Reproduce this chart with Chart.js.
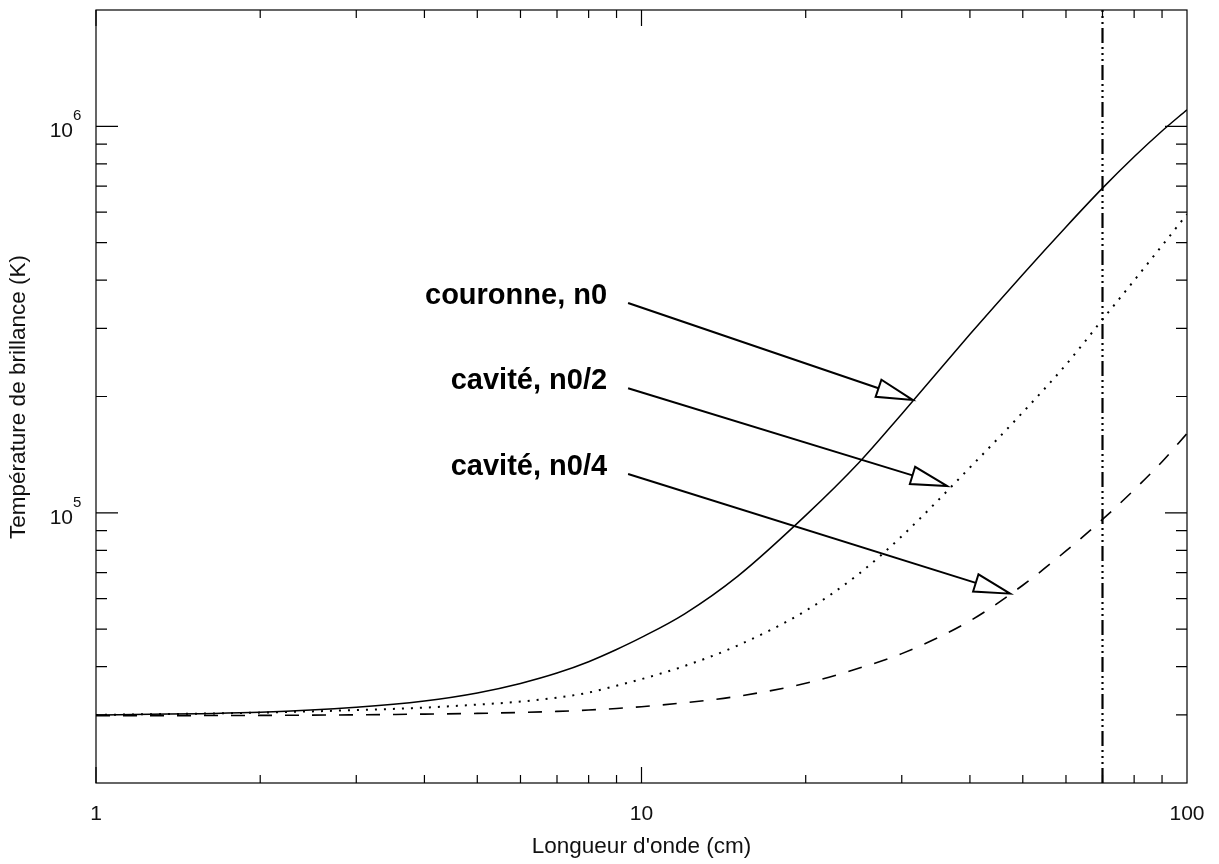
<!DOCTYPE html>
<html>
<head>
<meta charset="utf-8">
<script src="https://cdn.jsdelivr.net/npm/chart.js@4/dist/chart.umd.min.js"></script>
<style>
  body { margin: 0; background: #fff; }
  #wrap { width: 1219px; height: 864px; }
</style>
</head>
<body>
<div id="wrap"><canvas id="tbChart" width="1219" height="864"></canvas></div>
<script>
// longueur d'onde (cm)
const wavelengths = [1, 2, 3, 4, 5, 6, 7, 8, 9, 10, 12, 15, 20, 25, 30, 40, 50, 60, 70, 80, 90, 100];
// température de brillance (K)
const tbCouronne = [30000, 30500, 31400, 32600, 34200, 36200, 38500, 41200, 44300, 47600, 54800, 68500, 98500, 134600, 180300, 289600, 413900, 549200, 692000, 834200, 972500, 1104000];
const tbCaviteN2 = [30000, 30420, 30880, 31340, 31900, 32480, 33270, 34270, 35700, 37130, 40170, 45360, 55800, 69440, 87000, 131000, 182000, 241800, 316400, 399200, 491400, 592300];
const tbCaviteN4 = [29850, 29920, 30020, 30150, 30280, 30450, 30640, 30890, 31180, 31510, 32260, 33520, 36220, 39600, 43230, 52540, 64970, 79690, 96160, 114700, 135600, 160500];
const cutoffWavelength = 70;

// axes
const xRange = [1, 100];
const yRange = [2e4, 2e6];
const xMajorTicks = [1, 10, 100];
const xTickLabels = ['1', '10', '100'];
const yMajorTicks = [1e5, 1e6];
const yTickExponents = ['5', '6'];

// annotations: texte, départ de la flèche et pointe (unités des données)
const annoLabels = ['couronne, n0', 'cavité, n0/2', 'cavité, n0/4'];
const annoStart = [[9.45, 349000], [9.45, 210000], [9.45, 126000]];
const annoTip = [[31.4, 196000], [36.3, 117400], [47.4, 61800]];

function pts(ys) {
    return wavelengths.map(function (w, i) { return { x: w, y: ys[i] }; });
}

const FONT = "'Liberation Sans', Arial, Helvetica, sans-serif";

// dessin du cadre, des graduations et des annotations
const framePlugin = {
    id: 'frame',
    afterDatasetsDraw: function (chart) {
        const c = chart.ctx;
        const a = chart.chartArea;
        const xs = chart.scales.x;
        const ys = chart.scales.y;
        c.save();
        c.strokeStyle = '#000';
        c.lineWidth = 1.2;
        c.strokeRect(a.left, a.top, a.right - a.left, a.bottom - a.top);

        // graduations x
        c.beginPath();
        for (let d = 1; d < 100; d *= 10) {
            for (let m = 1; m < 10; m++) {
                const v = d * m;
                const px = xs.getPixelForValue(v);
                const len = m === 1 ? 16 : 8;
                c.moveTo(px, a.bottom); c.lineTo(px, a.bottom - len);
                c.moveTo(px, a.top); c.lineTo(px, a.top + len);
            }
        }
        // graduations y
        for (let d = 1e4; d < 1e7; d *= 10) {
            for (let m = 1; m < 10; m++) {
                const v = d * m;
                if (v <= yRange[0] || v >= yRange[1]) continue;
                const py = ys.getPixelForValue(v);
                const len = m === 1 ? 22 : 11;
                c.moveTo(a.left, py); c.lineTo(a.left + len, py);
                c.moveTo(a.right, py); c.lineTo(a.right - len, py);
            }
        }
        c.stroke();

        // étiquettes
        c.fillStyle = '#111';
        c.font = '21px ' + FONT;
        c.textAlign = 'center';
        c.textBaseline = 'middle';
        xMajorTicks.forEach(function (v, i) {
            c.fillText(xTickLabels[i], xs.getPixelForValue(v), 814);
        });
        c.font = '22.5px ' + FONT;
        c.fillText("Longueur d'onde (cm)", (a.left + a.right) / 2, 847);

        yMajorTicks.forEach(function (v, i) {
            const py = ys.getPixelForValue(v);
            c.font = '15px ' + FONT;
            c.textAlign = 'left';
            c.textBaseline = 'alphabetic';
            c.fillText(yTickExponents[i], 73, py - 6);
            c.font = '21px ' + FONT;
            c.textAlign = 'right';
            c.fillText('10', 73, py + 11);
        });

        c.save();
        c.translate(19, 397);
        c.rotate(-Math.PI / 2);
        c.font = '22.5px ' + FONT;
        c.textAlign = 'center';
        c.textBaseline = 'middle';
        c.fillText('Température de brillance (K)', 0, 0);
        c.restore();

        // flèches
        c.font = 'bold 29px ' + FONT;
        c.textAlign = 'right';
        c.textBaseline = 'alphabetic';
        c.fillStyle = '#000';
        annoLabels.forEach(function (txt, i) {
            const x0 = xs.getPixelForValue(annoStart[i][0]);
            const y0 = ys.getPixelForValue(annoStart[i][1]);
            const x1 = xs.getPixelForValue(annoTip[i][0]);
            const y1 = ys.getPixelForValue(annoTip[i][1]);
            c.fillText(txt, x0 - 21, y0 + 1);
            const ang = Math.atan2(y1 - y0, x1 - x0);
            const hl = 36, hw = 9;
            const bx = x1 - hl * Math.cos(ang), by = y1 - hl * Math.sin(ang);
            c.lineWidth = 2;
            c.beginPath();
            c.moveTo(x0, y0); c.lineTo(bx, by);
            c.stroke();
            c.beginPath();
            c.moveTo(x1, y1);
            c.lineTo(bx + hw * Math.sin(ang), by - hw * Math.cos(ang));
            c.lineTo(bx - hw * Math.sin(ang), by + hw * Math.cos(ang));
            c.closePath();
            c.fillStyle = '#fff';
            c.fill();
            c.stroke();
            c.fillStyle = '#000';
        });
        c.restore();
    }
};

new Chart(document.getElementById('tbChart').getContext('2d'), {
    type: 'line',
    data: {
        datasets: [
            { label: 'couronne, n0', data: pts(tbCouronne), borderColor: '#000', borderWidth: 1.5 },
            { label: 'cavité, n0/2', data: pts(tbCaviteN2), borderColor: '#000', borderWidth: 2, borderDash: [2, 7] },
            { label: 'cavité, n0/4', data: pts(tbCaviteN4), borderColor: '#000', borderWidth: 1.6, borderDash: [14, 13] },
            {
                label: 'coupure',
                data: [{ x: cutoffWavelength, y: yRange[0] }, { x: cutoffWavelength, y: yRange[1] }],
                borderColor: '#000', borderWidth: 2.2, borderDash: [15, 4, 2, 4, 2, 4, 2, 4],
                cubicInterpolationMode: 'default', tension: 0
            }
        ]
    },
    options: {
        responsive: false,
        animation: false,
        layout: { padding: { left: 96, top: 10, right: 32, bottom: 81 } },
        elements: {
            point: { radius: 0 },
            line: { cubicInterpolationMode: 'monotone', fill: false }
        },
        plugins: { legend: { display: false }, tooltip: { enabled: false } },
        scales: {
            x: { type: 'logarithmic', min: xRange[0], max: xRange[1], display: false },
            y: { type: 'logarithmic', min: yRange[0], max: yRange[1], display: false }
        }
    },
    plugins: [framePlugin]
});
</script>
</body>
</html>
